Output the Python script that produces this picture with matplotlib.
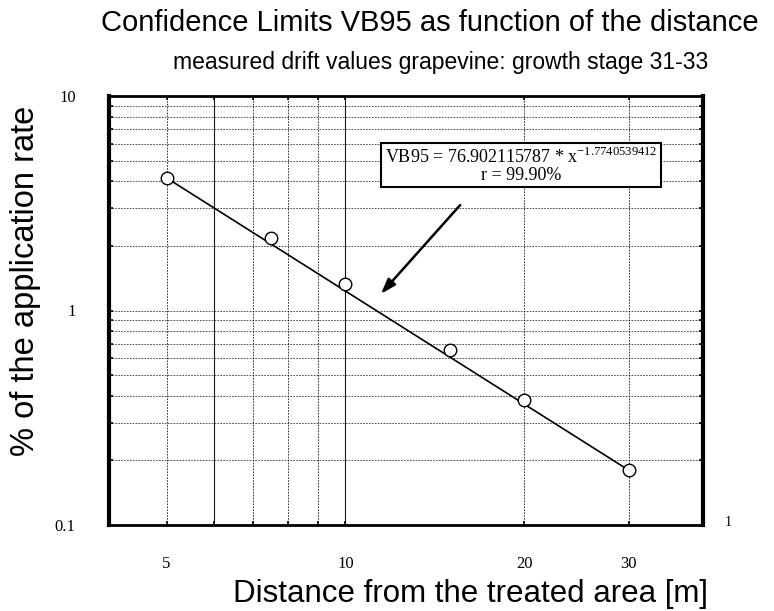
import matplotlib
matplotlib.use("Agg")
import matplotlib.pyplot as plt
from matplotlib.ticker import FixedLocator, NullFormatter, FixedFormatter

# data
distance = [5, 7.5, 10, 15, 20, 30]
vb95 = [4.15, 2.18, 1.33, 0.654, 0.383, 0.180]
fit_x = [5, 30]
fit_y = [4.15, 0.180]
x_ticks = [5, 10, 20, 30]
x_ticklabels = ["5", "10", "20", "30"]
y_ticks = [0.1, 1, 10]
y_ticklabels = ["0.1", "1", "10"]
x_grid = [5, 6, 7, 8, 9, 10, 20, 30]
y_grid = [0.2, 0.3, 0.4, 0.5, 0.6, 0.7, 0.8, 0.9, 1, 2, 3, 4, 5, 6, 7, 8, 9]

fig = plt.figure(figsize=(7.74, 6.11), dpi=100)
ax = fig.add_axes([109/774, 1-525/611, (703-109)/774, (525-96)/611])
ax.set_xscale("log")
ax.set_yscale("log")
ax.set_xlim(4, 40)
ax.set_ylim(0.1, 10)

for gx in x_grid:
    solid = gx in (6, 10)
    ax.axvline(gx, color="black", lw=0.8 if solid else 0.6,
               ls="-" if solid else (0, (2, 1.5)), zorder=1, alpha=0.9)
for gy in y_grid:
    ax.axhline(gy, color="black", lw=0.6, ls=(0, (2, 1.5)), zorder=1, alpha=0.8)

ax.plot(fit_x, fit_y, color="black", lw=1.2, zorder=2)
ax.plot(distance, vb95, ls="none", marker="o", ms=9, mfc="white",
        mec="black", mew=1.0, zorder=3)

for side, w in (("left", 3.0), ("right", 3.0), ("top", 2.0), ("bottom", 2.0)):
    ax.spines[side].set_linewidth(w)

ax.xaxis.set_major_locator(FixedLocator(x_ticks))
ax.xaxis.set_major_formatter(FixedFormatter(x_ticklabels))
ax.xaxis.set_minor_locator(FixedLocator([6, 7, 8, 9]))
ax.xaxis.set_minor_formatter(NullFormatter())
ax.yaxis.set_major_locator(FixedLocator(y_ticks))
ax.yaxis.set_major_formatter(FixedFormatter(y_ticklabels))
ax.yaxis.set_minor_locator(FixedLocator(y_grid))
ax.yaxis.set_minor_formatter(NullFormatter())

ax.tick_params(which="both", direction="in", top=True, right=True,
               length=3, width=1.2)
ax.tick_params(axis="y", which="major", pad=24, labelsize=12)
ax.tick_params(axis="x", which="major", pad=22, labelsize=12)
for lab in ax.get_xticklabels() + ax.get_yticklabels():
    lab.set_family("Liberation Serif")

fig.text(470/774, 1-594/611, "Distance from the treated area [m]",
         ha="center", va="center", family="Liberation Sans", fontsize=22.5)
fig.text(26/774, 1-281/611, "% of the application rate", rotation=90,
         ha="center", va="center", family="Liberation Sans", fontsize=23.5)

fig.text(430/774, 0.962, "Confidence Limits VB95 as function of the distance",
         ha="center", va="center", family="Liberation Sans", fontsize=21)
fig.text(441/774, 0.898, "measured drift values grapevine: growth stage 31-33",
         ha="center", va="center", family="Liberation Sans", fontsize=16.5)

# annotation box
box_text = "VB95 = 76.902115787 * x$^{\\mathregular{-1.7740539412}}$\nr = 99.90%"
fig.text((374+668)/2/774, 1-165/611, box_text, ha="center", va="center",
         family="Liberation Serif", fontsize=13, linespacing=1.0,
         bbox=dict(boxstyle="square,pad=0.2", fc="white", ec="black", lw=1.5),
         zorder=5)

ax.annotate("", xy=(379/774, 1-296/611), xycoords="figure fraction",
            xytext=(462/774, 1-203/611), textcoords="figure fraction",
            arrowprops=dict(arrowstyle="-|>,head_length=0.9,head_width=0.3",
                            color="black", lw=1.8), zorder=4)

fig.text(728/774, 1-522/611, "1", ha="center", va="center",
         family="Liberation Serif", fontsize=10)

fig.savefig("out.png", dpi=100)
